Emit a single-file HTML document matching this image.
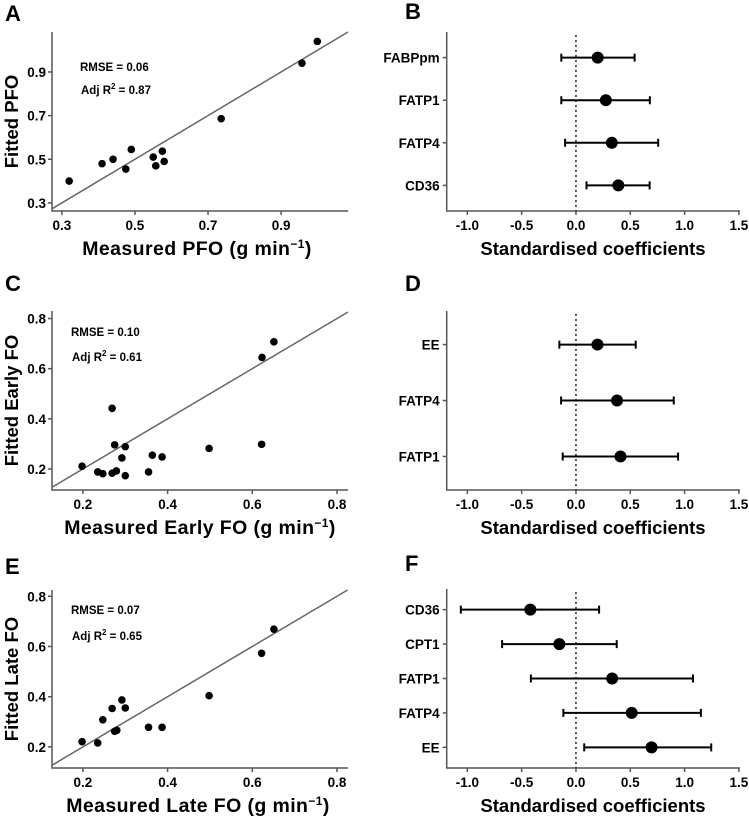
<!DOCTYPE html>
<html><head><meta charset="utf-8">
<style>
body{margin:0;background:#fff;}
svg{display:block;font-family:"Liberation Sans",Arial,sans-serif;}
</style></head>
<body>
<svg id="fig" width="749" height="820" viewBox="0 0 749 820"></svg>
<script>
// Panel A data
const aMeasured=[0.32,0.41,0.44,0.475,0.49,0.55,0.557,0.575,0.58,0.736,0.957,0.999];
const aFitted=[0.40,0.48,0.50,0.455,0.545,0.51,0.47,0.537,0.49,0.686,0.94,1.04];
const aXTicks=[0.3,0.5,0.7,0.9];
const aYTicks=[0.3,0.5,0.7,0.9];
// Panel C data
const cMeasured=[0.198,0.235,0.247,0.269,0.269,0.275,0.279,0.292,0.30,0.30,0.355,0.364,0.387,0.498,0.622,0.623,0.651];
const cFitted=[0.211,0.188,0.181,0.442,0.183,0.296,0.192,0.244,0.289,0.173,0.188,0.255,0.248,0.282,0.298,0.645,0.707];
const cXTicks=[0.2,0.4,0.6,0.8];
const cYTicks=[0.2,0.4,0.6,0.8];
// Panel E data
const eMeasured=[0.198,0.235,0.247,0.269,0.275,0.28,0.292,0.30,0.355,0.387,0.498,0.622,0.651];
const eFitted=[0.221,0.216,0.308,0.353,0.262,0.266,0.387,0.355,0.278,0.278,0.404,0.573,0.669];
const eXTicks=[0.2,0.4,0.6,0.8];
const eYTicks=[0.2,0.4,0.6,0.8];
// Forest B
const bLabels=["FABPpm","FATP1","FATP4","CD36"];
const bEst=[0.20,0.275,0.33,0.39];
const bLow=[-0.135,-0.135,-0.10,0.097];
const bHigh=[0.54,0.68,0.757,0.678];
// Forest D
const dLabels=["EE","FATP4","FATP1"];
const dEst=[0.198,0.378,0.41];
const dLow=[-0.153,-0.137,-0.122];
const dHigh=[0.55,0.90,0.94];
// Forest F
const fLabels=["CD36","CPT1","FATP1","FATP4","EE"];
const fEst=[-0.42,-0.153,0.333,0.513,0.696];
const fLow=[-1.06,-0.68,-0.415,-0.116,0.076];
const fHigh=[0.213,0.375,1.077,1.15,1.245];
const forestTicks=[-1.0,-0.5,0.0,0.5,1.0,1.5];

const NS="http://www.w3.org/2000/svg";
const svg=document.getElementById('fig');
function mk(tag,attrs,parent,text){
  const e=document.createElementNS(NS,tag);
  for(const k in attrs)e.setAttribute(k,attrs[k]);
  if(text!==undefined)e.textContent=text;
  (parent||svg).appendChild(e);return e;
}
function fmt(v,d){return v.toFixed(d);}

function panelLabel(t,x,y){
  const e=mk('text',{x:x,y:y,'font-size':22,'font-weight':'bold'},svg,t);
  
  
}

function scatter(o){
  const g=mk('g',{});
  
  
  const sx=v=>o.L+(v-o.xmin)/(o.xmax-o.xmin)*(o.R-o.L);
  const sy=v=>o.B-(v-o.ymin)/(o.ymax-o.ymin)*(o.B-o.T);
  const ax=mk('path',{d:`M${o.L} ${o.T}V${o.B}H${o.R}`,stroke:'#555',fill:'none','stroke-width':1.5},g);
  
  
  o.xt.forEach(t=>{
    mk('line',{x1:sx(t),x2:sx(t),y1:o.B,y2:o.B+4,stroke:'#555','stroke-width':1.5},g);
    const l=mk('text',{x:sx(t),y:o.B+19,'font-size':13.5,'font-weight':'bold','text-anchor':'middle'},g,fmt(t,1));
    
    
  });
  o.yt.forEach(t=>{
    mk('line',{x1:o.L-4,x2:o.L,y1:sy(t),y2:sy(t),stroke:'#555','stroke-width':1.5},g);
    const l=mk('text',{x:o.L-6,y:sy(t)+5,'font-size':13.5,'font-weight':'bold','text-anchor':'end'},g,fmt(t,1));
    
    
  });
  const lo=Math.max(o.xmin,o.ymin), hi=Math.min(o.xmax,o.ymax);
  const id=mk('line',{x1:sx(lo),y1:sy(lo),x2:sx(hi),y2:sy(hi),stroke:'#666','stroke-width':1.5},g);
  
  
  o.xs.forEach((v,i)=>{
    const c=mk('circle',{cx:sx(v),cy:sy(o.ys[i]),r:3.8,fill:'#000'},g);
    
    
  });
  const r1=mk('text',{x:o.ax,y:o.ay1,'font-size':11.5,'font-weight':'bold'},g,o.rmse);
  
  
  const r2=mk('text',{x:o.ax+1,y:o.ay2,'font-size':11.5,'font-weight':'bold'},g);
  
  
  r2.innerHTML='Adj R<tspan dy="-5" font-size="8">2</tspan><tspan dy="5"> = '+o.r2+'</tspan>';
  const xt=mk('text',{x:o.xtx,y:o.B+44,'font-size':19.5,'font-weight':'bold','text-anchor':'middle','letter-spacing':'0.4'},g);
  
  
  xt.innerHTML=o.xtitle+'  (g min<tspan dy="-7" font-size="12">−1</tspan><tspan dy="7">)</tspan>';
  const cy=(o.T+o.B)/2;
  const yt=mk('text',{x:18,y:cy,'font-size':18.5,'font-weight':'bold','text-anchor':'middle',transform:`rotate(-90 18 ${cy})`},g,o.ytitle);
  
  
}

function forest(o){
  const g=mk('g',{});
  
  
  const xmin=-1.19,xmax=1.51,L=446.7,R=740;
  const sx=v=>L+(v-xmin)/(xmax-xmin)*(R-L);
  const n=o.labels.length;
  const sp=(o.B-o.T)/(n-1+1.2);
  const sy=i=>o.T+0.6*sp+i*sp;
  const ax=mk('path',{d:`M${L} ${o.T}V${o.B}H${R}`,stroke:'#555',fill:'none','stroke-width':1.5},g);
  
  
  forestTicks.forEach(t=>{
    mk('line',{x1:sx(t),x2:sx(t),y1:o.B,y2:o.B+4,stroke:'#555','stroke-width':1.5},g);
    const l=mk('text',{x:sx(t),y:o.B+19,'font-size':13.5,'font-weight':'bold','text-anchor':'middle'},g,fmt(t,1));
    
    
  });
  const z=mk('line',{x1:sx(0),x2:sx(0),y1:o.T+3,y2:o.B,stroke:'#222','stroke-width':1.5,'stroke-dasharray':'2,3'},g);
  
  
  o.labels.forEach((lab,i)=>{
    const y=sy(i);
    mk('line',{x1:L-4,x2:L,y1:y,y2:y,stroke:'#555','stroke-width':1.5},g);
    const t=mk('text',{x:L-7,y:y+5,'font-size':13.5,'font-weight':'bold','text-anchor':'end'},g,lab);
    
    
    const bar=mk('path',{d:`M${sx(o.low[i])} ${y}H${sx(o.high[i])}M${sx(o.low[i])} ${y-4}v8M${sx(o.high[i])} ${y-4}v8`,stroke:'#000','stroke-width':2,fill:'none'},g);
    
    
    const c=mk('circle',{cx:sx(o.est[i]),cy:y,r:6,fill:'#000'},g);
    
    
  });
  const xt=mk('text',{x:593,y:o.B+44,'font-size':18.5,'font-weight':'bold','text-anchor':'middle'},g,'Standardised coefficients');
  
  
}

panelLabel('A',5,21);panelLabel('B',405,19);
panelLabel('C',5,291);panelLabel('D',405,291);
panelLabel('E',5,574);panelLabel('F',405,571);

scatter({name:'panel-a-scatter',xs:aMeasured,ys:aFitted,xt:aXTicks,yt:aYTicks,L:52,R:348,T:32,B:211,
  xmin:0.273,xmax:1.083,ymin:0.263,ymax:1.083,ax:80,ay1:71,ay2:94,rmse:'RMSE = 0.06',r2:'0.87',
  xtitle:'Measured PFO',ytitle:'Fitted PFO',xtx:197});
scatter({name:'panel-c-scatter',xs:cMeasured,ys:cFitted,xt:cXTicks,yt:cYTicks,L:52,R:348,T:311,B:490,
  xmin:0.127,xmax:0.826,ymin:0.116,ymax:0.83,ax:71,ay1:336,ay2:361,rmse:'RMSE = 0.10',r2:'0.61',
  xtitle:'Measured Early FO',ytitle:'Fitted Early FO',xtx:200});
scatter({name:'panel-e-scatter',xs:eMeasured,ys:eFitted,xt:eXTicks,yt:eYTicks,L:52,R:348,T:590,B:768,
  xmin:0.127,xmax:0.826,ymin:0.116,ymax:0.825,ax:71,ay1:614,ay2:640,rmse:'RMSE = 0.07',r2:'0.65',
  xtitle:'Measured Late FO',ytitle:'Fitted Late FO',xtx:198});

forest({name:'panel-b-forest',labels:bLabels,est:bEst,low:bLow,high:bHigh,T:32,B:211});
forest({name:'panel-d-forest',labels:dLabels,est:dEst,low:dLow,high:dHigh,T:311,B:490});
forest({name:'panel-f-forest',labels:fLabels,est:fEst,low:fLow,high:fHigh,T:589,B:768});
</script>
</body></html>
